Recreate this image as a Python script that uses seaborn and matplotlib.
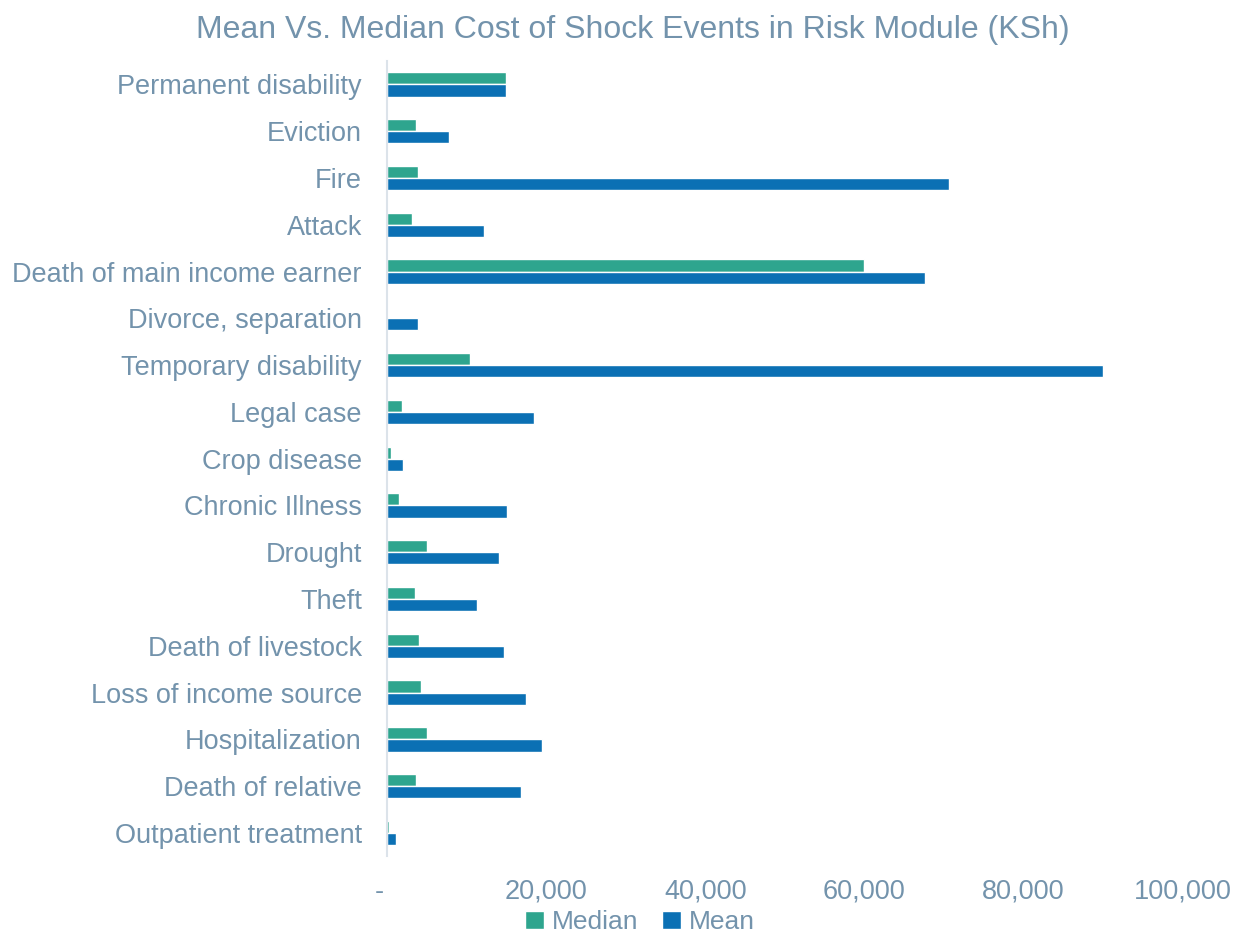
import pandas as pd
import matplotlib.pyplot as plt
import seaborn as sns
from matplotlib.ticker import FuncFormatter

# ----------------------
# Data (KSh)
# ----------------------
events = ["Permanent disability", "Eviction", "Fire", "Attack",
          "Death of main income earner", "Divorce, separation",
          "Temporary disability", "Legal case", "Crop disease",
          "Chronic Illness", "Drought", "Theft", "Death of livestock",
          "Loss of income source", "Hospitalization", "Death of relative",
          "Outpatient treatment"]
median_cost = [15000, 3600, 3900, 3100, 60000, 0, 10400, 1900, 500,
               1500, 5000, 3500, 4000, 4300, 5000, 3600, 300]
mean_cost = [15000, 7800, 70600, 12200, 67600, 3900, 90000, 18500, 2000,
             15100, 14100, 11300, 14700, 17500, 19500, 16800, 1100]

df = pd.DataFrame({
    "Event": events * 2,
    "Cost": median_cost + mean_cost,
    "Stat": ["Median"] * len(events) + ["Mean"] * len(events),
})

text_col = "#7393AC"
palette = {"Median": "#2EA58E", "Mean": "#0B70B4"}

sns.set_style("white")
plt.rcParams["font.family"] = ["Liberation Sans", "DejaVu Sans"]

fig = plt.figure(figsize=(12.36, 9.38), dpi=100)
ax = fig.add_axes([0.313, 0.087, 0.644, 0.848])

sns.barplot(data=df, y="Event", x="Cost", hue="Stat",
            hue_order=["Median", "Mean"], palette=palette,
            order=events, orient="h", width=0.52, saturation=1,
            ax=ax)

ax.set_xlim(0, 100000)
ax.set_ylim(len(events) - 0.5, -0.5)
ax.set_xticks([0, 20000, 40000, 60000, 80000, 100000])
# Excel-style "-" for zero, nudged left a touch
ax.xaxis.set_major_formatter(FuncFormatter(lambda v, p: "-  " if v == 0 else f"{v:,.0f}"))
ax.set_xlabel("")
ax.set_ylabel("")

for s in ["top", "right", "bottom"]:
    ax.spines[s].set_visible(False)
ax.spines["left"].set_color("#DCE3EA")
ax.spines["left"].set_linewidth(1.5)

ax.tick_params(axis="both", length=0, colors=text_col, labelsize=19.5)
ax.tick_params(axis="x", pad=16)
ax.tick_params(axis="y", pad=18)

fig.suptitle("Mean Vs. Median Cost of Shock Events in Risk Module (KSh)",
             x=0.512, y=0.984, fontsize=23, color=text_col)

ax.legend(loc="center", bbox_to_anchor=(0.318, -0.083), ncol=2,
          frameon=False, fontsize=19, labelcolor=text_col,
          handlelength=0.7, handleheight=0.7, handletextpad=0.3,
          columnspacing=0.9, borderpad=0.2)

plt.savefig("out.png", dpi=100)
plt.close()
